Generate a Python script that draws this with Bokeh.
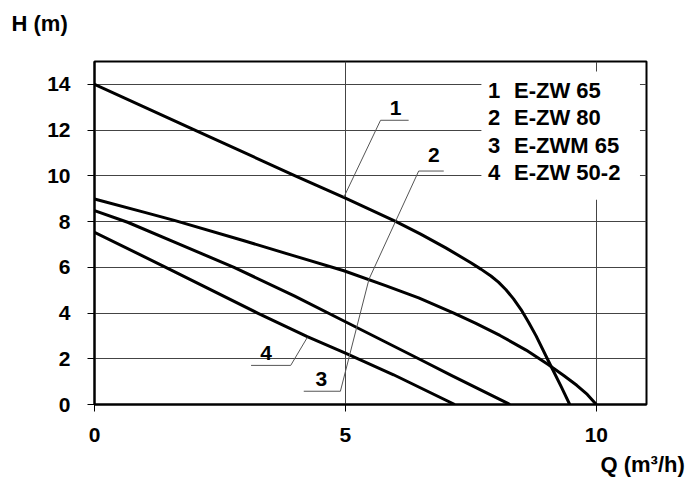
from bokeh.plotting import figure
from bokeh.models import FixedTicker, Title
from bokeh.embed import file_html
from bokeh.resources import INLINE
from bokeh.core.properties import value

# ---- data ----
# curve 1: E-ZW 65
q1 = [0, 2, 4, 5, 6, 6.5, 7.0, 7.5, 7.7, 7.9, 8.05, 8.2, 8.35, 8.5, 8.65, 8.8, 9.08, 9.3, 9.47]
h1 = [14, 12.0, 10.0, 9.03, 8.01, 7.45, 6.85, 6.2, 5.92, 5.62, 5.35, 5.02, 4.62, 4.15, 3.6, 3.0, 1.75, 0.78, 0.0]
# curve 2: E-ZW 80
q2 = [0, 1.0, 1.59, 2.98, 3.98, 4.97, 5.8, 6.46, 7.16, 7.6, 8.08, 8.6, 9.04, 9.35, 9.61, 9.82, 10.0]
h2 = [8.99, 8.4, 8.05, 7.16, 6.5, 5.85, 5.2, 4.66, 4.0, 3.55, 3.02, 2.38, 1.75, 1.27, 0.84, 0.44, 0.0]
# curve 3: E-ZWM 65
q3 = [0, 0.66, 1.7, 2.78, 3.98, 4.97, 6.46, 7.12, 8.28]
h3 = [8.48, 7.97, 7.0, 6.0, 4.75, 3.65, 2.0, 1.26, 0.0]
# curve 4: E-ZW 50-2
q4 = [0, 1.42, 3.25, 4.24, 5.0, 5.96, 7.18]
h4 = [7.53, 6.0, 4.0, 2.97, 2.25, 1.3, 0.0]

numbers = ["1", "2", "3", "4"]
models = ["E-ZW 65", "E-ZW 80", "E-ZWM 65", "E-ZW 50-2"]

x_ticks = [0, 5, 10]
y_ticks = [0, 2, 4, 6, 8, 10, 12, 14]

# leader lines (polyline vertices) and their number labels
lead1_x = [4.97, 5.70, 6.26]; lead1_y = [9.07, 12.43, 12.43]
lead2_x = [5.47, 6.46, 6.96]; lead2_y = [5.48, 10.21, 10.21]
lead3_x = [5.47, 4.90, 4.17]; lead3_y = [5.48, 0.58, 0.58]
lead4_x = [4.24, 3.91, 3.12]; lead4_y = [2.93, 1.71, 1.71]
tag_x = [6.0, 6.76, 4.52, 3.42]
tag_y = [12.98, 10.89, 1.10, 2.27]

FONT = "Liberation Sans"

p = figure(width=690, height=492, x_range=(0, 11), y_range=(0, 15),
           min_border_left=94, min_border_right=44, min_border_top=61,
           min_border_bottom=88, output_backend="svg", toolbar_location=None)
p.background_fill_color = "white"
p.border_fill_color = "white"
p.outline_line_color = "black"
p.outline_line_width = 2

for ax, ticks in ((p.xaxis[0], x_ticks), (p.yaxis[0], y_ticks)):
    ax.ticker = FixedTicker(ticks=ticks)
    ax.minor_tick_line_color = None
    ax.major_tick_in = 0
    ax.major_tick_out = 7
    ax.major_tick_line_color = "black"
    ax.major_tick_line_width = 1
    ax.axis_line_color = "black"
    ax.axis_line_width = 2
    ax.major_label_text_font = FONT
    ax.major_label_text_font_style = "bold"
    ax.major_label_text_font_size = "21px"
    ax.major_label_text_color = "black"
p.xaxis.major_label_standoff = 16
p.yaxis.major_label_standoff = 17

p.xgrid.ticker = FixedTicker(ticks=[5, 10])
p.ygrid.ticker = FixedTicker(ticks=[2, 4, 6, 8, 10, 12, 14])
p.grid.grid_line_color = "#444444"
p.grid.grid_line_width = 1
p.grid.grid_line_alpha = 1

# white box behind the legend text (interrupts the grid)
p.quad(left=[7.71], right=[10.87], bottom=[8.95], top=[14.56],
       fill_color="white", line_color=None)

for xs, ys in ((q1, h1), (q2, h2), (q3, h3), (q4, h4)):
    p.line(xs, ys, line_color="black", line_width=3, line_join="round")

for xs, ys in ((lead1_x, lead1_y), (lead2_x, lead2_y), (lead3_x, lead3_y), (lead4_x, lead4_y)):
    p.line(xs, ys, line_color="#555555", line_width=1)

p.text(x=tag_x, y=tag_y, text=numbers, text_font=value(FONT), text_font_style="bold",
       text_font_size="21px", text_align="center", text_baseline="middle", text_color="black")

leg_y = [13.74, 12.54, 11.33, 10.13]
p.text(x=[7.84] * 4, y=leg_y, text=numbers, text_font=value(FONT), text_font_style="bold",
       text_font_size="22px", text_align="left", text_baseline="middle", text_color="black")
p.text(x=[8.36] * 4, y=leg_y, text=models, text_font=value(FONT), text_font_style="bold",
       text_font_size="22px", text_align="left", text_baseline="middle", text_color="black")

p.add_layout(Title(text="H (m)\n ", align="left", offset=-83, standoff=1,
                   text_font=FONT, text_font_style="bold", text_font_size="22px",
                   text_color="black"), "above")
p.add_layout(Title(text="Q (m³/h)", align="left", offset=506, standoff=10,
                   text_font=FONT, text_font_style="bold", text_font_size="22px",
                   text_color="black"), "below")

open("out.html", "w").write(file_html(p, INLINE))
